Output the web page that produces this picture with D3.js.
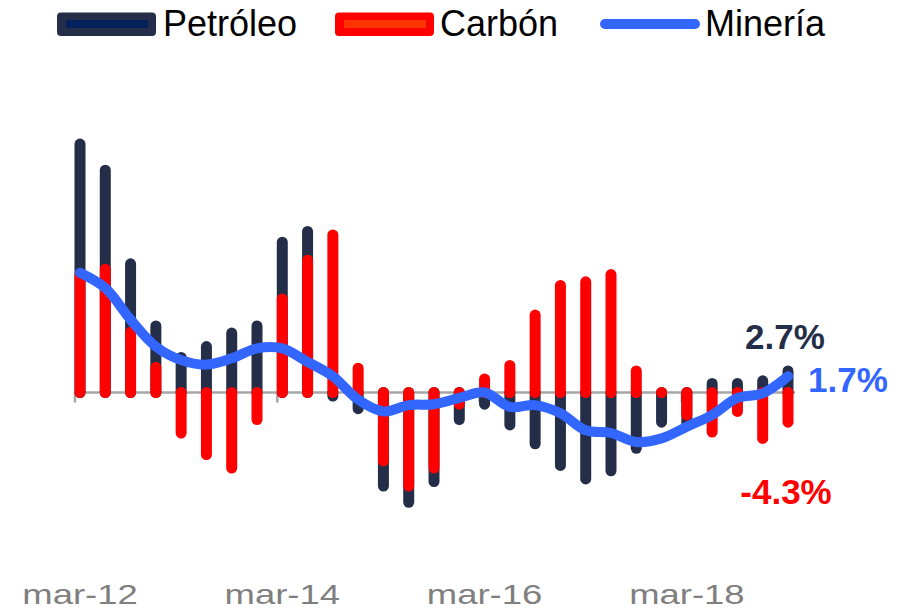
<!DOCTYPE html>
<html>
<head>
<meta charset="utf-8">
<script src="https://d3js.org/d3.v7.min.js"></script>
<style>
  body { margin: 0; background: #fff; }
  svg { display: block; font-family: "Liberation Sans", Arial, sans-serif; }
</style>
</head>
<body>
<div id="chart"></div>
<script>
// --- Data (quarterly growth, %) ---
const quarters = [
  "mar-12", "jun-12", "sep-12", "dic-12",
  "mar-13", "jun-13", "sep-13", "dic-13",
  "mar-14", "jun-14", "sep-14", "dic-14",
  "mar-15", "jun-15", "sep-15", "dic-15",
  "mar-16", "jun-16", "sep-16", "dic-16",
  "mar-17", "jun-17", "sep-17", "dic-17",
  "mar-18", "jun-18", "sep-18", "dic-18",
  "mar-19"
];
const petroleo = [
  27.6, 24.7, 14.3, 7.4, 3.9, 5.1, 6.6, 7.4,
  16.7, 17.9, -0.4, -1.8, -10.4, -12.2, -9.9, -3.0,
  -1.3, -3.6, -5.7, -8.1, -9.6, -8.7, -6.2, -3.3,
  -3.6, 1.0, 1.0, 1.3, 2.4
];
const carbon = [
  13.2, 13.7, 6.7, 2.8, -4.5, -6.9, -8.4, -3.0,
  10.4, 14.7, 17.5, 2.7, -7.6, -10.4, -8.4, -1.3,
  1.5, 3.0, 8.6, 11.9, 12.3, 13.1, 2.4, 0.0,
  -2.5, -4.4, -2.1, -5.1, -3.3
];
const mineria = [
  13.3, 11.6, 8.1, 5.1, 3.6, 3.1, 3.8, 4.9,
  4.9, 3.4, 1.8, -0.8, -2.1, -1.4, -1.3, -0.6,
  0.0, -1.6, -1.4, -2.3, -4.2, -4.5, -5.5, -5.1,
  -3.8, -2.5, -0.6, -0.1, 1.8
];
const tickLabels = ["mar-12", "mar-14", "mar-16", "mar-18"];
const seriesNames = ["Petróleo", "Carbón", "Minería"];
const lastLabels = ["2.7%", "-4.3%", "1.7%"];

// --- Colours ---
const navy = "#242E48";
const red = "#FF0000";
const blue = "#3366FF";

const width = 905, height = 611;

const svg = d3.select("#chart")
  .append("svg")
    .attr("width", width)
    .attr("height", height);

// --- Scales ---
const x = d3.scalePoint()
  .domain(quarters)
  .range([80, 788]);

const y = d3.scaleLinear()
  .domain([-15, 30])
  .range([527.5, 122.5]);

const y0 = y(0);

// --- Zero axis line + ticks ---
svg.append("line")
  .attr("x1", x(quarters[0]) - 5)
  .attr("x2", x(quarters[quarters.length - 1]) + 7)
  .attr("y1", y0)
  .attr("y2", y0)
  .attr("stroke", "#A6A6A6")
  .attr("stroke-width", 2.5);

svg.selectAll(".tick-mark")
  .data(tickLabels)
  .join("line")
    .attr("class", "tick-mark")
    .attr("x1", d => x(d) - 5)
    .attr("x2", d => x(d) - 5)
    .attr("y1", y0)
    .attr("y2", y0 + 10)
    .attr("stroke", "#A6A6A6")
    .attr("stroke-width", 2.5);

// --- Bars (drawn as thick round-capped lines, overlapping) ---
const drawBars = (values, color, cls) => {
  svg.selectAll("." + cls)
    .data(values)
    .join("line")
      .attr("class", cls)
      .attr("x1", (d, i) => x(quarters[i]))
      .attr("x2", (d, i) => x(quarters[i]))
      .attr("y1", y0)
      .attr("y2", d => y(d))
      .attr("stroke", color)
      .attr("stroke-width", 11)
      .attr("stroke-linecap", "round");
};
drawBars(petroleo, navy, "bar-pet");
drawBars(carbon, red, "bar-car");

// --- Minería line ---
const line = d3.line()
  .x((d, i) => x(quarters[i]))
  .y(d => y(d))
  .curve(d3.curveCatmullRom.alpha(0.5));

svg.append("path")
  .datum(mineria)
  .attr("d", line)
  .attr("fill", "none")
  .attr("stroke", blue)
  .attr("stroke-width", 10)
  .attr("stroke-linecap", "round")
  .attr("stroke-linejoin", "round");

// --- X labels (wide grey text) ---
svg.selectAll(".x-label")
  .data(tickLabels)
  .join("text")
    .attr("class", "x-label")
    .attr("transform", d => `translate(${x(d)}, 604) scale(1.35, 1)`)
    .attr("text-anchor", "middle")
    .attr("fill", "#7F7F7F")
    .style("font-size", "27px")
    .text(d => d);

// --- End labels ---
const lastX = x(quarters[quarters.length - 1]);
svg.append("text")
  .attr("x", lastX - 3)
  .attr("y", 349)
  .attr("text-anchor", "middle")
  .attr("fill", navy)
  .style("font-size", "35px")
  .style("font-weight", "bold")
  .text(lastLabels[0]);

svg.append("text")
  .attr("x", lastX - 2)
  .attr("y", 504)
  .attr("text-anchor", "middle")
  .attr("fill", red)
  .style("font-size", "35px")
  .style("font-weight", "bold")
  .text(lastLabels[1]);

svg.append("text")
  .attr("x", lastX + 20)
  .attr("y", 392)
  .attr("fill", blue)
  .style("font-size", "35px")
  .style("font-weight", "bold")
  .text(lastLabels[2]);

// --- Legend ---
const legend = svg.append("g");

// Petróleo swatch
legend.append("rect")
  .attr("x", 57).attr("y", 12.5).attr("width", 99).attr("height", 23.5)
  .attr("rx", 4).attr("fill", navy);
legend.append("rect")
  .attr("x", 66).attr("y", 20).attr("width", 82).attr("height", 8)
  .attr("fill", "#06205E");
legend.append("text")
  .attr("x", 163).attr("y", 36)
  .style("font-size", "36px")
  .attr("fill", "#000")
  .text(seriesNames[0]);

// Carbón swatch
legend.append("rect")
  .attr("x", 335).attr("y", 12.5).attr("width", 99).attr("height", 23.5)
  .attr("rx", 4).attr("fill", red);
legend.append("rect")
  .attr("x", 344).attr("y", 20).attr("width", 82).attr("height", 8)
  .attr("fill", "#FF3300");
legend.append("text")
  .attr("x", 440).attr("y", 36)
  .style("font-size", "36px")
  .attr("fill", "#000")
  .text(seriesNames[1]);

// Minería swatch
legend.append("line")
  .attr("x1", 605).attr("x2", 695)
  .attr("y1", 24).attr("y2", 24)
  .attr("stroke", blue)
  .attr("stroke-width", 10)
  .attr("stroke-linecap", "round");
legend.append("text")
  .attr("x", 705).attr("y", 36)
  .style("font-size", "36px")
  .attr("fill", "#000")
  .text(seriesNames[2]);
</script>
</body>
</html>
